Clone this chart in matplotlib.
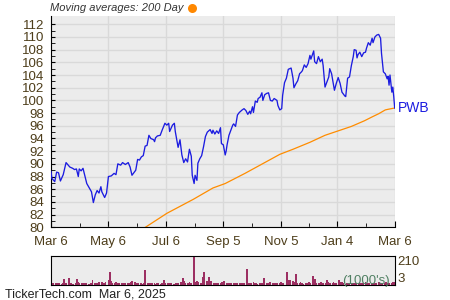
import numpy as np
import pandas as pd
import matplotlib
matplotlib.use("Agg")
import matplotlib.pyplot as plt
from matplotlib.lines import Line2D

plt.rcParams['font.family'] = ['Liberation Sans', 'DejaVu Sans']

start = pd.Timestamp('2024-03-06')
end = pd.Timestamp('2025-03-06')

# price (days after Mar 6 2024, close)
price_days = [0, 1, 4, 6, 8, 10, 13, 16, 20, 23, 25, 27, 29, 30, 32, 34, 36, 38, 41, 43,
              45, 47, 49, 51, 53, 54, 57, 59, 61, 64, 67, 69, 71, 74, 76, 79, 82, 84, 86, 89,
              90, 92, 94, 96, 98, 100, 102, 104, 106, 109, 110, 111, 113, 116, 118, 121, 123, 125, 126, 129,
              131, 132, 135, 137, 139, 141, 143, 145, 147, 149, 150, 152, 153, 155, 156, 158, 160, 162, 164, 166,
              169, 171, 172, 174, 176, 178, 180, 181, 183, 185, 186, 187, 189, 191, 193, 194, 196, 198, 200, 203,
              205, 207, 209, 211, 212, 214, 215, 217, 219, 220, 222, 224, 225, 227, 229, 231, 233, 235, 237, 240,
              241, 243, 245, 246, 248, 250, 252, 255, 257, 258, 260, 262, 264, 266, 267, 269, 271, 273, 275, 276,
              278, 279, 280, 282, 284, 286, 288, 289, 291, 293, 295, 296, 298, 300, 301, 303, 305, 307, 309, 312,
              313, 315, 317, 319, 321, 322, 324, 325, 326, 328, 330, 332, 334, 335, 337, 339, 341, 342, 344, 346,
              348, 350, 351, 353, 355, 357, 358, 359, 360, 362, 363, 364, 365]
price = [88.8, 87.7, 87.2, 88.7, 88.6, 87.3, 88.3, 90.2, 89.5, 89.3, 89.1, 89.2, 88.0, 89.2, 88.9, 89.3, 88.1, 86.9, 86.1, 85.6,
         83.9, 85.1, 85.8, 85.4, 86.4, 85.6, 84.7, 85.4, 88.0, 88.1, 88.5, 88.3, 90.0, 89.8, 90.2, 89.9, 90.2, 89.5, 88.2, 88.8,
         89.0, 90.7, 90.6, 91.1, 91.3, 92.8, 92.9, 94.5, 94.0, 93.8, 93.5, 94.1, 94.4, 94.5, 95.3, 96.4, 96.1, 96.4, 95.1, 96.1,
         96.4, 95.1, 92.6, 93.8, 91.4, 90.2, 90.8, 90.3, 92.3, 91.2, 88.2, 86.9, 88.2, 87.4, 90.1, 90.8, 91.3, 92.7, 94.3, 95.0,
         95.4, 94.8, 95.3, 94.7, 95.2, 94.8, 95.7, 93.2, 93.0, 91.4, 92.0, 93.0, 94.5, 95.3, 96.1, 96.3, 95.9, 97.7, 98.1, 98.5,
         98.7, 98.4, 97.8, 98.3, 97.9, 99.0, 98.1, 99.9, 99.7, 100.3, 100.5, 101.2, 100.0, 100.9, 101.1, 101.2, 100.0, 99.9, 100.3, 100.0,
         99.2, 98.5, 98.7, 100.8, 102.8, 103.5, 104.9, 105.1, 103.5, 102.0, 102.6, 103.1, 104.2, 104.5, 104.7, 105.6, 105.2, 105.8, 107.1, 106.5,
         107.4, 107.8, 106.1, 105.8, 106.9, 106.1, 106.5, 105.5, 102.1, 102.9, 103.7, 105.0, 104.2, 102.4, 101.6, 102.7, 103.6, 102.7, 101.3, 100.7,
         100.6, 103.5, 103.7, 105.5, 106.9, 108.0, 107.9, 106.7, 107.2, 107.6, 106.9, 107.5, 107.6, 108.2, 109.1, 108.7, 109.8, 109.1, 110.0, 110.3,
         110.4, 109.8, 107.4, 104.5, 104.2, 103.4, 103.8, 102.4, 104.0, 101.3, 102.1, 100.6, 98.8]

# 200 day moving average
ma_days = [95, 123, 151, 172, 185, 206, 243, 257, 275, 291, 305, 319, 333, 341, 348, 355, 358, 365]
ma = [79.5, 82.2, 84.4, 86.2, 86.9, 88.5, 91.5, 92.3, 93.4, 94.5, 95.2, 95.9, 96.8, 97.4, 97.9, 98.5, 98.6, 98.8]

# volume, thousands per trading day
volume = [37, 14, 12, 15, 12, 18, 18, 14, 10, 12,
          44, 15, 12, 51, 14, 12, 10, 9, 12, 13,
          44, 20, 14, 12, 9, 16, 12, 15, 11, 10,
          12, 15, 37, 14, 12, 18, 12, 24, 20, 15,
          14, 18, 24, 37, 20, 95, 28, 16, 14, 20,
          12, 10, 12, 18, 14, 12, 10, 14, 16, 12,
          15, 20, 30, 22, 18, 12, 10, 12, 14, 9,
          6, 12, 109, 14, 10, 18, 12, 14, 12, 10,
          10, 14, 12, 10, 16, 13, 37, 12, 14, 12,
          14, 12, 16, 9, 3, 12, 14, 12, 20, 15,
          51, 28, 18, 14, 16, 20, 14, 12, 210, 24,
          18, 30, 20, 14, 12, 60, 95, 95, 28, 22,
          61, 20, 30, 14, 8, 12, 3, 18, 16, 20,
          14, 20, 28, 18, 14, 12, 3, 16, 12, 14,
          12, 14, 12, 16, 14, 14, 16, 12, 116, 14,
          16, 14, 12, 20, 14, 18, 12, 10, 14, 16,
          14, 12, 51, 14, 12, 18, 14, 20, 16, 12,
          10, 14, 12, 16, 20, 14, 12, 18, 14, 92,
          24, 37, 40, 28, 14, 20, 80, 18, 12, 20,
          14, 12, 9, 16, 14, 12, 20, 14, 68, 30,
          44, 20, 16, 14, 18, 20, 12, 14, 18, 37,
          20, 14, 12, 16, 22, 14, 18, 12, 40, 20,
          14, 25, 12, 10, 16, 14, 12, 18, 14, 12,
          14, 16, 12, 18, 14, 12, 16, 14, 20, 12,
          16, 14, 12, 18, 14, 16, 12, 14, 20, 16,
          14, 18, 12, 16, 22, 14, 18, 16, 14, 20,
          18, 24]

tick_dates = ['2024-03-06', '2024-05-06', '2024-07-06', '2024-09-05', '2024-11-05', '2025-01-04', '2025-03-06']
tick_labels = ['Mar 6', 'May 6', 'Jul 6', 'Sep 5', 'Nov 5', 'Jan 4', 'Mar 6']

px = start + pd.to_timedelta(price_days, unit='D')
mx = start + pd.to_timedelta(ma_days, unit='D')
vx = pd.bdate_range(start, end)[:len(volume)]
ticks = pd.to_datetime(tick_dates)
minor = ticks[:-1] + (ticks[1:] - ticks[:-1]) / 2

txt = '#4d3d1a'
bg = '#ececec'
grid = '#d9d9d9'

fig = plt.figure(figsize=(4.5, 3), dpi=100)
ax = fig.add_axes([0.1133, 0.2423, 0.7638, 0.7043])
ax.set_facecolor(bg)
ax.plot(px, price, color='#1c1ce0', lw=0.95, zorder=3)
ax.plot(mx, ma, color='#ff8c00', lw=0.9, zorder=2)
ax.set_xlim(start, end)
ax.set_ylim(80, 113.3)
ax.set_yticks(np.arange(80, 113, 2))
ax.set_yticks(np.arange(81, 113, 2), minor=True)
ax.set_xticks(ticks)
ax.set_xticklabels(tick_labels)
ax.set_xticks(minor, minor=True)
ax.grid(True, which='major', color=grid, lw=1)
ax.set_axisbelow(True)
for s in ['top', 'right']:
    ax.spines[s].set_visible(False)
ax.tick_params(which='both', direction='in', colors='black', labelcolor=txt, labelsize=9.5, pad=6)
ax.tick_params(which='major', length=4)
ax.tick_params(which='minor', length=3)
ax.tick_params(axis='y', which='both', length=3, pad=5)
ax.annotate('PWB', xy=(px[-1], price[-1]), xytext=(2, 0), textcoords='offset points',
            va='center', ha='left', color='#1c1ce0', fontsize=10, annotation_clip=False)

fig.text(0.111, 0.972, 'Moving averages: 200 Day', style='italic', color='#333333', fontsize=8.0, va='center')
fig.add_artist(Line2D([0.426], [0.975], marker='o', markersize=6.5, color='#ff8800',
                      markeredgewidth=0, transform=fig.transFigure))

vax = fig.add_axes([0.1133, 0.051, 0.7638, 0.0957])
vax.set_facecolor(bg)
vax.bar(vx, volume, width=1.9, color='#9c2f62', align='center')
vax.set_xlim(start, end)
vax.set_ylim(3, 210)
vax.set_xticks([])
vax.yaxis.tick_right()
vax.set_yticks([3, 210])
vax.set_yticklabels(['3', '210'])
vax.tick_params(axis='y', length=0, labelcolor=txt, labelsize=9.5, pad=2)
labs = vax.get_yticklabels()
labs[0].set_va('bottom')
labs[1].set_va('top')
vax.text(0.985, 0.12, "(1000's)", transform=vax.transAxes, ha='right', va='center',
         color='#4f7f62', fontsize=9.5)

fig.text(0.012, 0.019, 'TickerTech.com  Mar 6, 2025', color='#222222', fontsize=9, va='center')

fig.savefig('out.png', dpi=100)
